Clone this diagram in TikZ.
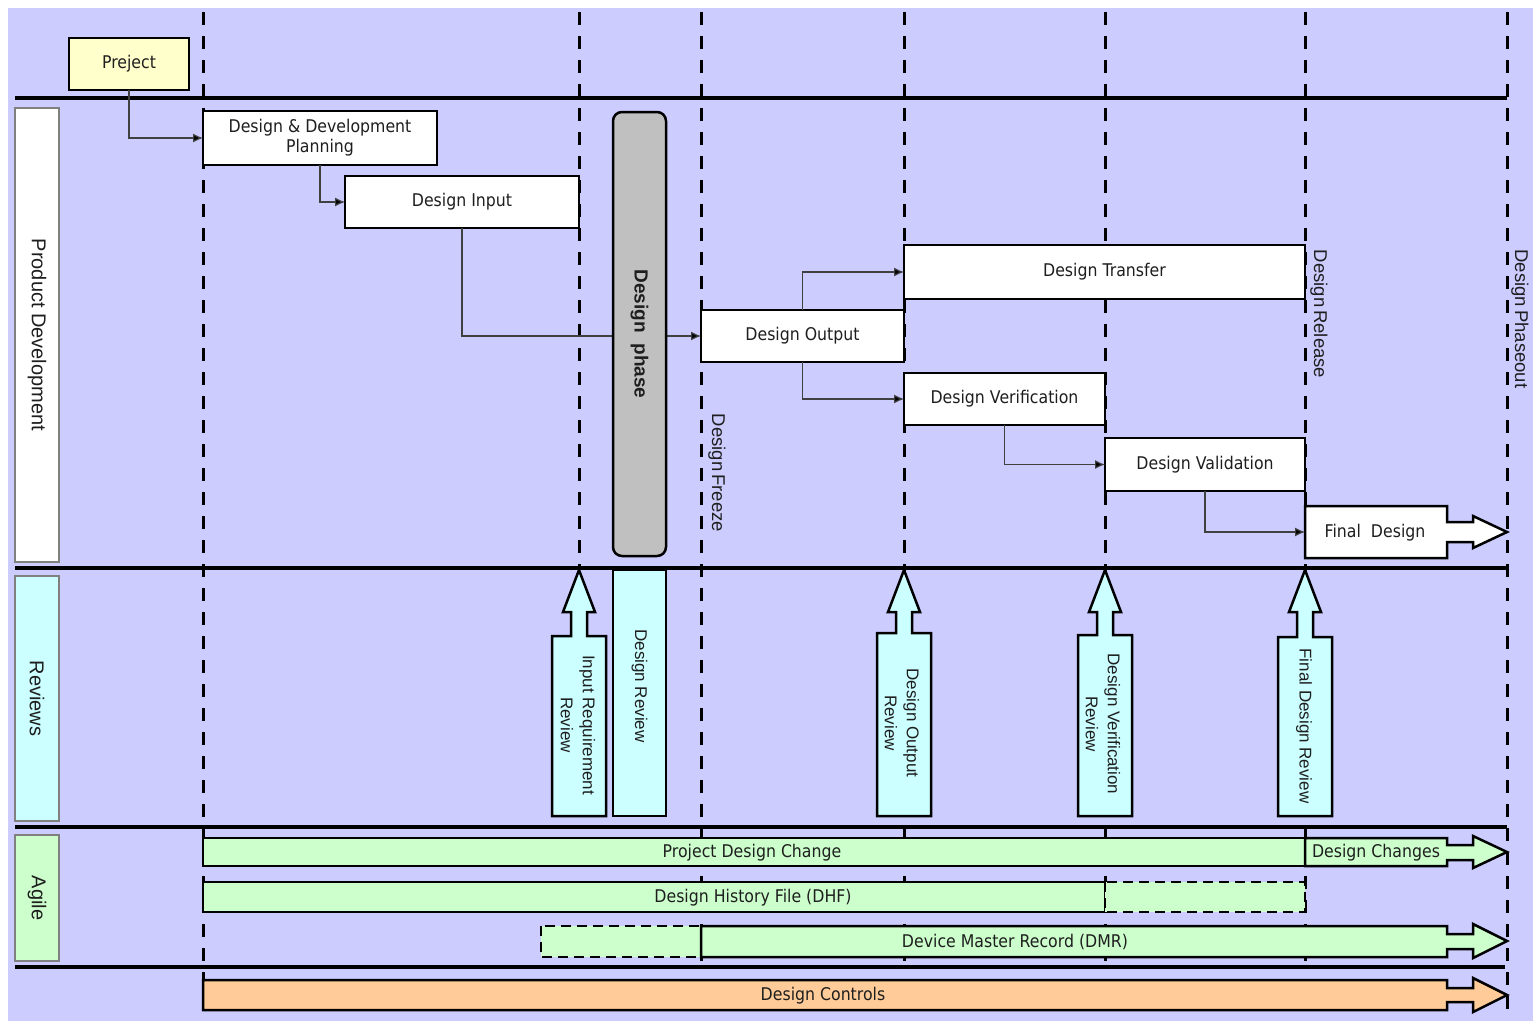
\documentclass[tikz,border=0pt]{standalone}
\usepackage{fontspec}
\usetikzlibrary{arrows.meta}
\newfontfamily\boxfont[FakeStretch=0.9]{DejaVu Sans}
\newfontfamily\lblfont{Liberation Sans}
\definecolor{lav}{RGB}{204,204,255}
\definecolor{cyanfill}{RGB}{204,255,255}
\definecolor{greenfill}{RGB}{204,255,204}
\definecolor{yellowfill}{RGB}{255,255,204}
\definecolor{orangefill}{RGB}{255,204,153}
\definecolor{grayfill}{RGB}{192,192,192}
\definecolor{txt}{RGB}{30,30,30}
\newcommand\revarrow[2]{%
  \path[revshape] ({#1-27},816) -- ({#1-27},#2) -- ({#1-8},#2) -- ({#1-8},612) -- ({#1-16},612) -- (#1,570) -- ({#1+16},612) -- ({#1+8},612) -- ({#1+8},#2) -- ({#1+27},#2) -- ({#1+27},816) -- cycle;}
\tikzset{
  milestone/.style={line width=3pt, dash pattern=on 13pt off 11pt},
  sepline/.style={line width=3.5pt},
  conn/.style={draw=black!75, line width=1.2pt, -{Latex[length=10pt,width=9pt,fill=black]}},
  procbox/.style={draw, line width=2.5pt, fill=white, inner sep=0pt, outer sep=0pt,
    font=\boxfont\fontsize{17.5}{20}\selectfont, text=txt, align=center},
  bartext/.style={inner sep=0pt, font=\boxfont\fontsize{17.5}{20}\selectfont, text=txt},
  barbox/.style={draw, line width=2.5pt, fill=greenfill, inner sep=0pt, outer sep=0pt},
  dashbox/.style={draw, line width=2.5pt, fill=greenfill, dash pattern=on 10pt off 6pt},
  blockarrow/.style={draw, line width=2.5pt, line join=miter},
  lane/.style={draw=gray, line width=1.2pt, inner sep=0pt, outer sep=0pt, rotate=-90,
    font=\lblfont\fontsize{20}{22}\selectfont, text=txt},
  vlabel/.style={rotate=-90, inner sep=0pt, font=\lblfont\fontsize{18.5}{22}\selectfont, text=txt},
  revshape/.style={draw, line width=2.5pt, fill=cyanfill, line join=miter},
  revtext/.style={rotate=-90, inner sep=0pt, align=center, font=\lblfont\fontsize{17}{22}\selectfont, text=txt},
}
\begin{document}
\begin{tikzpicture}[x=1pt,y=-1pt]
\useasboundingbox (0,0) rectangle (1533,1021);
\fill[lav] (8,8) rectangle (1533,1021);

% milestone lines
\foreach \xx/\ye in {203/980,579/568,701/967,904/967,1105/967,1305/967,1507/1015}
  \draw[milestone] (\xx,12) -- (\xx,\ye);

% separators
\draw[sepline] (15,98) -- (1507,98);
\draw[sepline] (15,568) -- (1507,568);
\draw[sepline] (15,827) -- (1507,827);
\draw[sepline] (15,967) -- (1505,967);

% lane labels
\node[lane, fill=white, minimum width=454, minimum height=44] (lpd) at (37,335) {Product Development};
\node[lane, fill=cyanfill, minimum width=245, minimum height=44] (lrv) at (37,698.5) {Reviews};
\node[lane, fill=greenfill, minimum width=126, minimum height=44] (lag) at (37,898) {Agile};

% process boxes
\node[procbox, fill=yellowfill, minimum width=120, minimum height=52] (proj) at (129,64) {Preject};
\node[procbox, minimum width=234, minimum height=54] (ddp) at (320,138) {Design \& Development\\Planning};
\node[procbox, minimum width=234, minimum height=52] (din) at (462,202) {Design Input};
\node[procbox, minimum width=203, minimum height=52] (dout) at (802.5,336) {Design Output};
\node[procbox, minimum width=401, minimum height=54] (dtr) at (1104.5,272) {Design Transfer};
\node[procbox, minimum width=201, minimum height=52] (dver) at (1004.5,399) {Design Verification};
\node[procbox, minimum width=200, minimum height=53] (dval) at (1205,464.5) {Design Validation};
\path[blockarrow, fill=white] (1305,506) -- (1447,506) -- (1447,522) -- (1473,522) -- (1473,516) -- (1507,532) -- (1473,548) -- (1473,542) -- (1447,542) -- (1447,558) -- (1305,558) -- cycle;
\node[bartext] (fin) at (1375,533) {Final\ \ Design};
\coordinate (finw) at (1305,532);

% connectors
\draw[conn] (proj.south) |- (ddp.west);
\draw[conn] (ddp.south) |- (din.west);
\draw[conn] (din.south) |- (dout.west);
\draw[conn] (dout.north) |- (dtr.west);
\draw[conn] (dout.south) |- (dver.west);
\draw[conn] (dver.south) |- (dval.west);
\draw[conn] (dval.south) |- (finw);

% design phase
\node[draw, line width=2.5pt, fill=grayfill, rounded corners=9pt, rotate=-90, minimum width=444, minimum height=53,
  inner sep=0pt, font=\lblfont\bfseries\fontsize{19}{22}\selectfont, text=txt] (dph) at (639.5,334) {Design\ \ phase};

% milestone labels
\node[vlabel] (mfreeze) at (717,473) {Design\kern3pt Freeze};
\node[vlabel] (mrelease) at (1319,314) {Design\kern3pt Release};
\node[vlabel] (mphase) at (1520,319) {Design\kern3pt Phaseout};

% reviews
\node[draw, line width=2.5pt, fill=cyanfill, minimum width=53, minimum height=246, inner sep=0pt] (drbox) at (639.5,693) {};
\node[revtext] (drt) at (639.5,686) {Design Review};
\revarrow{579}{636}
\node[revtext] (irr) at (578,725) {Input Requirement\\Review};
\revarrow{904}{633}
\node[revtext] (dor) at (902,723) {Design Output\\Review};
\revarrow{1105}{635}
\node[revtext] (dvr) at (1103,724) {Design Verification\\Review};
\revarrow{1305}{637}
\node[revtext] (fdr) at (1304,726) {Final Design Review};

% agile bars
\node[barbox, minimum width=1102, minimum height=28] (pdc) at (754,852) {};
\node[bartext] (pdct) at (752,853) {Project Design Change};
\path[blockarrow, fill=greenfill] (1305,838) -- (1447,838) -- (1447,845) -- (1473,845) -- (1473,836) -- (1507,852) -- (1473,868) -- (1473,860) -- (1447,860) -- (1447,866) -- (1305,866) -- cycle;
\node[bartext] (dchg) at (1376,853) {Design Changes};

\node[barbox, minimum width=902, minimum height=30] (dhf) at (654,897) {};
\draw[dashbox] (1105,882) rectangle (1305,912);
\node[bartext] (dhft) at (753,898) {Design History File (DHF)};

\draw[dashbox] (541,926) rectangle (701,957);
\path[blockarrow, fill=greenfill] (701,926) -- (1447,926) -- (1447,934) -- (1473,934) -- (1473,924) -- (1507,941) -- (1473,958) -- (1473,949) -- (1447,949) -- (1447,957) -- (701,957) -- cycle;
\node[bartext] (dmr) at (1015,942) {Device Master Record (DMR)};

% design controls
\path[blockarrow, fill=orangefill] (203,980) -- (1447,980) -- (1447,988) -- (1473,988) -- (1473,978) -- (1507,995) -- (1473,1012) -- (1473,1002) -- (1447,1002) -- (1447,1010) -- (203,1010) -- cycle;
\node[bartext] (dc) at (823,996) {Design Controls};
\end{tikzpicture}
\end{document}
